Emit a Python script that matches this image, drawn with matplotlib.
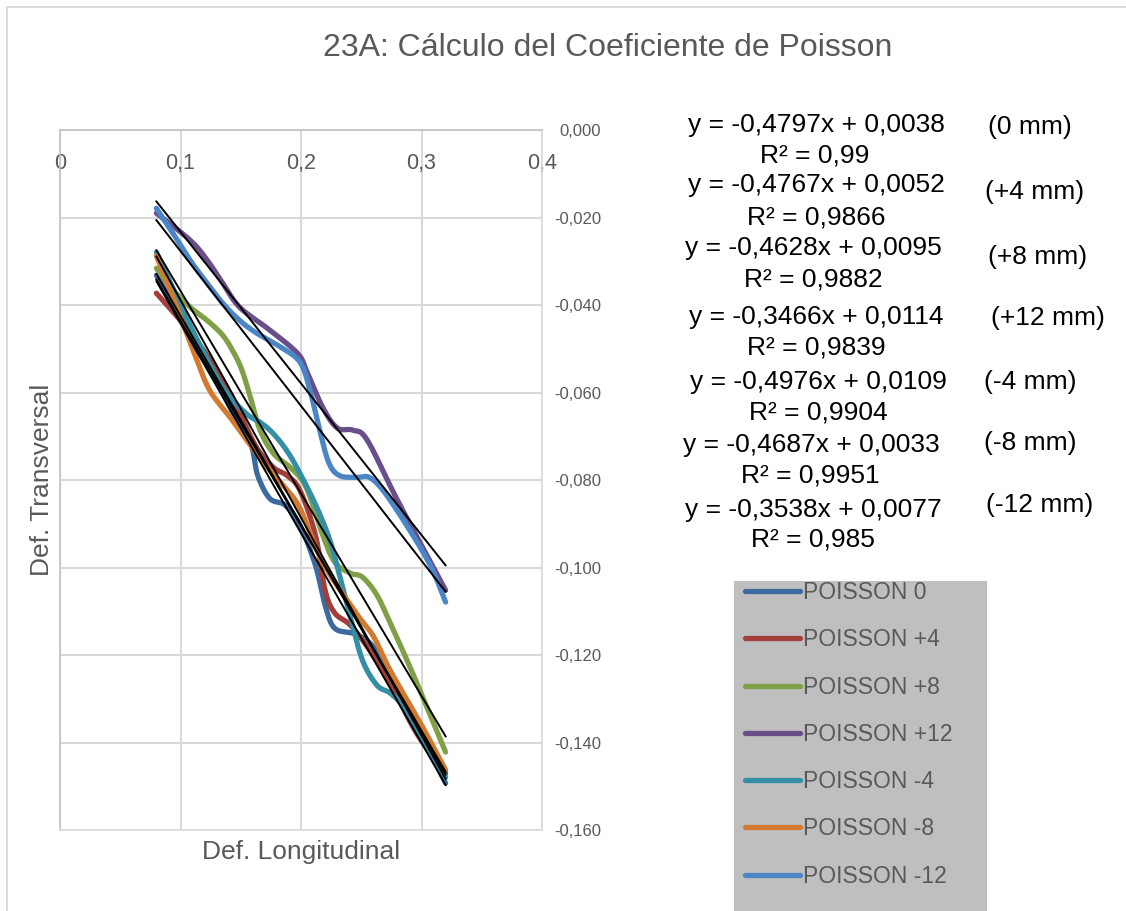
import numpy as np
import matplotlib
matplotlib.use('Agg')
import matplotlib.pyplot as plt
from matplotlib.patches import Rectangle
from matplotlib.lines import Line2D
from matplotlib.ticker import FuncFormatter

plt.rcParams['font.family'] = ['Liberation Sans', 'DejaVu Sans']

# ---- data: longitudinal vs transversal strain for each offset ----
series_names = ['POISSON 0', 'POISSON +4', 'POISSON +8', 'POISSON +12',
                'POISSON -4', 'POISSON -8', 'POISSON -12']
offset_labels = ['(0 mm)', '(+4 mm)', '(+8 mm)', '(+12 mm)',
                 '(-4 mm)', '(-8 mm)', '(-12 mm)']
colors = ['#3D6A9E', '#A23F3B', '#7FA047', '#6A4E8A',
          '#348FA5', '#D27A30', '#4A86C6']

x_0 = [0.080, 0.116, 0.141, 0.158, 0.164, 0.174, 0.187, 0.199, 0.212, 0.220,
       0.228, 0.245, 0.259, 0.274, 0.320]
y_0 = [-0.0332, -0.0503, -0.0634, -0.0716, -0.0789, -0.0842, -0.0858, -0.0903,
       -0.0995, -0.1086, -0.1139, -0.1152, -0.1178, -0.1242, -0.1493]

x_p4 = [0.080, 0.102, 0.119, 0.135, 0.149, 0.163, 0.177, 0.188, 0.199, 0.212,
        0.220, 0.228, 0.241, 0.257, 0.274, 0.296, 0.320]
y_p4 = [-0.0373, -0.0442, -0.0503, -0.0572, -0.0647, -0.0725, -0.0771, -0.0789,
        -0.0823, -0.0926, -0.1052, -0.1104, -0.1132, -0.1189, -0.1264, -0.1379,
        -0.1470]

x_p8 = [0.080, 0.094, 0.108, 0.122, 0.135, 0.144, 0.151, 0.158, 0.166, 0.177,
        0.191, 0.202, 0.210, 0.218, 0.228, 0.241, 0.251, 0.263, 0.274, 0.288,
        0.301, 0.320]
y_p8 = [-0.0316, -0.0366, -0.0405, -0.0435, -0.0469, -0.0508, -0.0549, -0.0611,
        -0.0686, -0.0739, -0.0771, -0.0805, -0.0858, -0.0926, -0.0988, -0.1013,
        -0.1022, -0.1063, -0.1127, -0.1212, -0.1296, -0.1422]

x_p12 = [0.080, 0.108, 0.122, 0.135, 0.149, 0.172, 0.197, 0.205, 0.218, 0.230,
         0.243, 0.255, 0.280, 0.320]
y_p12 = [-0.0190, -0.0252, -0.0297, -0.0350, -0.0405, -0.0453, -0.0510, -0.0553,
         -0.0634, -0.0681, -0.0686, -0.0709, -0.0846, -0.1052]

x_m4 = [0.080, 0.097, 0.114, 0.135, 0.154, 0.166, 0.176, 0.188, 0.199, 0.213,
        0.224, 0.232, 0.241, 0.251, 0.263, 0.274, 0.285, 0.301, 0.320]
y_m4 = [-0.0279, -0.0382, -0.0480, -0.0588, -0.0647, -0.0668, -0.0691, -0.0732,
        -0.0784, -0.0862, -0.0938, -0.1018, -0.1114, -0.1212, -0.1269, -0.1287,
        -0.1319, -0.1395, -0.1479]

x_m8 = [0.080, 0.091, 0.102, 0.112, 0.124, 0.141, 0.155, 0.172, 0.185, 0.199,
        0.218, 0.246, 0.260, 0.274, 0.301, 0.320]
y_m8 = [-0.0288, -0.0362, -0.0442, -0.0514, -0.0594, -0.0656, -0.0709, -0.0771,
        -0.0812, -0.0864, -0.0988, -0.1105, -0.1157, -0.1235, -0.1365, -0.1463]

x_m12 = [0.080, 0.094, 0.108, 0.122, 0.135, 0.149, 0.163, 0.183, 0.199, 0.207,
         0.215, 0.223, 0.232, 0.246, 0.258, 0.274, 0.305, 0.320]
y_m12 = [-0.0179, -0.0237, -0.0298, -0.0350, -0.0396, -0.0435, -0.0464, -0.0496,
         -0.0530, -0.0590, -0.0680, -0.0760, -0.0790, -0.0794, -0.0796, -0.0846,
         -0.0983, -0.1079]

# linear trendlines (y = m x + b) and their R²
slopes = [-0.4797, -0.4767, -0.4628, -0.3466, -0.4976, -0.4687, -0.3538]
intercepts = [0.0038, 0.0052, 0.0095, 0.0114, 0.0109, 0.0033, 0.0077]
r_squared = [0.99, 0.9866, 0.9882, 0.9839, 0.9904, 0.9951, 0.985]

xs = [x_0, x_p4, x_p8, x_p12, x_m4, x_m8, x_m12]
ys = [y_0, y_p4, y_p8, y_p12, y_m4, y_m8, y_m12]

W, H = 1126, 911


def fx(px):
    return px / W


def fy(py):
    return 1 - py / H


def smooth(x, y, sx, sy, n=30):
    # bezier smoothing through the points (same idea as a spreadsheet "smoothed line")
    p = np.column_stack([np.asarray(x) * sx, np.asarray(y) * sy])
    p = np.vstack([p[0], p, p[-1]])
    t = np.linspace(0, 1, n)[:, None]
    segs = []
    for i in range(1, len(p) - 2):
        p0, p1, p2, p3 = p[i - 1], p[i], p[i + 1], p[i + 2]
        c1 = p1 + (p2 - p0) / 6
        c2 = p2 - (p3 - p1) / 6
        segs.append((1 - t) ** 3 * p1 + 3 * (1 - t) ** 2 * t * c1
                    + 3 * (1 - t) * t ** 2 * c2 + t ** 3 * p2)
    out = np.vstack(segs)
    return out[:, 0] / sx, out[:, 1] / sy


fig = plt.figure(figsize=(W / 100, H / 100), dpi=100)
ax = fig.add_axes([fx(60), fy(830), fx(542) - fx(60), fy(130) - fy(830)])
ax.set_xlim(0, 0.4)
ax.set_ylim(-0.16, 0)

sx = (542 - 60) / 0.4
sy = (830 - 130) / 0.16

for x, y, c in zip(xs, ys, colors):
    xx, yy = smooth(x, y, sx, sy)
    ax.plot(xx, yy, color=c, lw=3.8, solid_capstyle='round', zorder=3)

for x, m, b in zip(xs, slopes, intercepts):
    xt = np.array([min(x), max(x)])
    ax.plot(xt, m * xt + b, color='black', lw=1.4, zorder=4)

# axes: horizontal axis sits on top (y = 0), values labelled on the right
ax.set_xticks(np.arange(0, 0.41, 0.1))
ax.set_yticks(np.arange(-0.16, 0.001, 0.02))
ax.xaxis.set_major_formatter(FuncFormatter(lambda v, _: f"{v:g}".replace('.', ',')))
ax.yaxis.set_major_formatter(
    FuncFormatter(lambda v, _: ("0,000" if abs(v) < 1e-9 else f"{v:.3f}".replace('.', ','))))
ax.xaxis.tick_top()
ax.yaxis.tick_right()
ax.tick_params(axis='x', length=0, pad=-32, labelsize=15.5, labelcolor='#595959')
ax.tick_params(axis='y', length=0, pad=42.5, labelsize=12, labelcolor='#595959')
for lbl in ax.get_yticklabels():
    lbl.set_horizontalalignment('right')
ax.grid(True, color='#D9D9D9', lw=1.5, zorder=0)
ax.set_axisbelow(True)
for side in ['right', 'bottom']:
    ax.spines[side].set_color('#D9D9D9')
    ax.spines[side].set_linewidth(1.1)
for side in ['left', 'top']:
    ax.spines[side].set_color('#BFBFBF')
    ax.spines[side].set_linewidth(1.1)

ax.xaxis.set_label_position('bottom')
ax.yaxis.set_label_position('left')
ax.set_xlabel('Def. Longitudinal', fontsize=19, color='#595959', labelpad=7)
ax.set_ylabel('Def. Transversal', fontsize=19, color='#595959', labelpad=4)

fig.text(fx(608), fy(48), '23A: Cálculo del Coeficiente de Poisson',
         ha='center', va='center', fontsize=23, color='#595959')

# trendline equations
eq_pos = [(816, 125), (816, 185), (813, 248), (816, 317), (818, 382), (811, 445), (813, 510)]
r2_pos = [(815, 155), (816, 217), (813, 280), (816, 347), (818, 412), (810, 475), (813, 540)]
tag_pos = [(1030, 127), (1035, 192), (1038, 257), (1048, 318), (1030, 382), (1030, 443), (1040, 505)]
for m, b, r2, ep, rp, tp, tag in zip(slopes, intercepts, r_squared,
                                     eq_pos, r2_pos, tag_pos, offset_labels):
    eq = f"y = {m:.4f}x + {b:.4f}".replace('.', ',')
    fig.text(fx(ep[0]), fy(ep[1]), eq, ha='center', va='center', fontsize=19, color='black')
    fig.text(fx(rp[0]), fy(rp[1]), "R² = " + format(r2, '.4g').replace('.', ','),
             ha='center', va='center', fontsize=19, color='black')
    fig.text(fx(tp[0]), fy(tp[1]), tag, ha='center', va='center', fontsize=19, color='black')

# legend on a grey panel
fig.patches.append(Rectangle((fx(734), -0.05), fx(987) - fx(734), fy(581) + 0.05,
                             transform=fig.transFigure, facecolor='#BFBFBF',
                             edgecolor='none', zorder=0))
handles = [Line2D([], [], color=c, lw=3.8, solid_capstyle='round') for c in colors]
fig.legend(handles, series_names, loc='upper left', bbox_to_anchor=(fx(745), fy(581)),
           frameon=False, fontsize=16.5, labelcolor='#595959', handlelength=2.4,
           handletextpad=0.15, labelspacing=1.06, borderpad=0, borderaxespad=0)

# chart area outline
fig.patches.append(Rectangle((fx(7), -0.05), 1.1, fy(7) + 0.05, transform=fig.transFigure,
                             fill=False, edgecolor='#D9D9D9', lw=1.3, zorder=0))

fig.savefig('out.png', dpi=100)
